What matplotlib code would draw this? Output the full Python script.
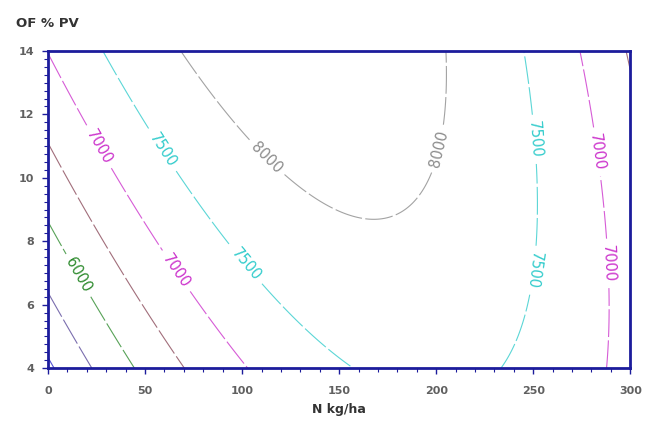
import numpy as np
import matplotlib.pyplot as plt
from matplotlib.ticker import MultipleLocator

# contour points (N kg/ha, OF % PV) per yield level
levels = [5000, 5500, 6000, 6500, 7000, 7500, 8000]
colors = ['#2b2bc8', '#5a4a9a', '#2e8b2e', '#8a4a5a', '#cc33cc', '#33cccc', '#8c8c8c']

pts_8000 = [(72, 14), (112, 10.6), (170, 8.5), (202, 10.9), (206, 14)]
pts_7500 = [(30, 14), (60, 10.9), (99, 7.1), (159, 4), (234, 4), (248, 7.1), (248, 11.2), (246, 14)]
pts_7000 = [(1, 13.8), (24, 10.9), (67, 7.1), (104, 4), (276, 14), (281, 10.8), (288, 7.3), (290, 4)]
pts_6500 = [(0, 11), (72, 4)]
pts_6000 = [(1, 8.45), (41, 4)]
pts_5500 = [(1, 6.4), (23, 4)]
pts_5000 = [(0, 4.3), (4.6, 4)]

# label spots
lab_pos = [(112, 10.6), (202, 10.9),
           (60, 10.9), (99, 7.1), (248, 11.2), (248, 7.1),
           (24, 10.9), (67, 7.1), (281, 10.8), (288, 7.3),
           (15, 6.9)]
lab_levels = [6000, 7000, 7500, 8000]

# fit a quadratic response surface through the points
rows, z = [], []
for lev, pts in zip(levels, [pts_5000, pts_5500, pts_6000, pts_6500, pts_7000, pts_7500, pts_8000]):
    for n, p in pts:
        rows.append([1, n, p, n * n, p * p, n * p])
        z.append(lev)
coef = np.linalg.lstsq(np.array(rows, float), np.array(z, float), rcond=None)[0]

N, P = np.meshgrid(np.linspace(0, 300, 401), np.linspace(4, 14, 241))
Z = coef[0] + coef[1]*N + coef[2]*P + coef[3]*N**2 + coef[4]*P**2 + coef[5]*N*P

fig = plt.figure(figsize=(6.55, 4.32), dpi=100)
ax = fig.add_axes([0.0733, 0.148, 0.889, 0.734])

col = dict(zip(levels, colors))
plain = [l for l in levels if l not in lab_levels]
dash = (0, (25, 3))
ax.contour(N, P, Z, levels=plain, colors=[col[l] for l in plain], linewidths=0.8,
           linestyles=[dash], alpha=0.8)
cs = ax.contour(N, P, Z, levels=lab_levels, colors=[col[l] for l in lab_levels],
                linewidths=0.8, linestyles=[dash], alpha=0.8)
labels = ax.clabel(cs, manual=lab_pos, inline=True, inline_spacing=6, fontsize=10.5, fmt='%d')
for t in labels:
    t.set_alpha(1)
    x, y = t.get_position()
    # lower label on the right 7500 branch reads upward
    if x > 230 and x < 260 and y < 9:
        t.set_rotation(t.get_rotation() + 180)

ax.set_xlim(0, 300)
ax.set_ylim(4, 14)
ax.set_xticks([0, 50, 100, 150, 200, 250, 300])
ax.set_yticks([4, 6, 8, 10, 12, 14])
ax.xaxis.set_minor_locator(MultipleLocator(10))
ax.yaxis.set_minor_locator(MultipleLocator(0.25))
navy = '#1c1c9c'
for s in ax.spines.values():
    s.set_color(navy)
    s.set_linewidth(2)
ax.tick_params(which='both', direction='out', color=navy, labelsize=8, labelcolor='#606060')
ax.tick_params(which='major', length=4, width=1)
ax.tick_params(which='minor', length=3, width=0.8)
ax.tick_params(axis='x', pad=9)
ax.tick_params(axis='y', pad=6)
for lbl in ax.get_xticklabels() + ax.get_yticklabels():
    lbl.set_fontweight('bold')

ax.set_xlabel('N kg/ha', fontsize=9, fontweight='bold', color='#333333', labelpad=5)
fig.text(0.025, 0.945, 'OF % PV', fontsize=9.5, fontweight='bold', color='#333333', va='center')

fig.savefig('out.png', dpi=100)
